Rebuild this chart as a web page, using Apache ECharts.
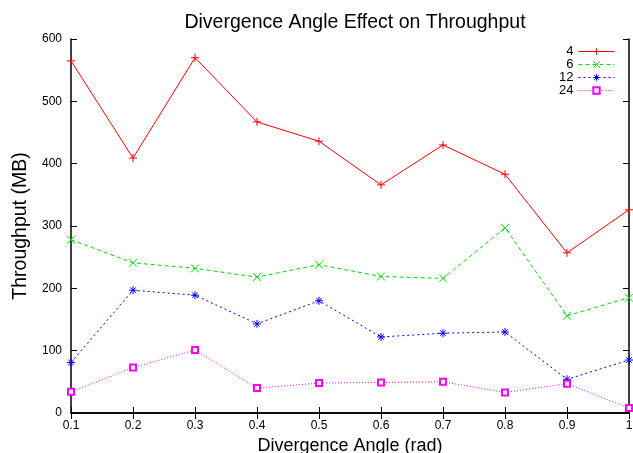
<!DOCTYPE html>
<html><head><meta charset="utf-8">
<script src="https://cdn.jsdelivr.net/npm/echarts@6/dist/echarts.min.js"></script>
<style>html,body{margin:0;padding:0;background:#fff}#c{width:633px;height:453px}</style>
</head><body><div id="c"></div>
<script>
var categories = ['0.1','0.2','0.3','0.4','0.5','0.6','0.7','0.8','0.9','1'];
var seriesNames = ['4','6','12','24'];
var s4  = [565, 409, 570, 467, 436, 366, 430, 383, 257, 326];
var s6  = [278, 241, 232, 218, 238, 219, 216, 297, 156, 185];
var s12 = [81, 197, 189, 143, 180, 122, 128, 130, 54, 85];
var s24 = [34, 73, 101, 40, 48, 49, 50, 33, 47, 8];
var yTicks = [0, 100, 200, 300, 400, 500, 600];

var FONT = '"Liberation Sans", Arial, sans-serif';
var colors = ['#ff0000', '#00dd00', '#0000ff', '#ff00ff'];
var lineTypes = ['solid', [4, 3], [2, 3], [1, 2]];
var symbols = [
  'path://M0,5L10,5M5,0L5,10',
  'path://M0,0L10,10M10,0L0,10',
  'path://M0,5L10,5M5,0L5,10M1.5,1.5L8.5,8.5M8.5,1.5L1.5,8.5',
  'emptyRect'
];
var datas = [s4, s6, s12, s24];

var chart = echarts.init(document.getElementById('c'), null, {renderer: 'canvas'});
var axisLine = {show: true, lineStyle: {color: '#000', width: 1.5}};
var tick = {show: true, inside: true, length: 6, lineStyle: {color: '#000', width: 1}};
var option = {
  backgroundColor: '#fff',
  animation: false,
  title: {
    text: 'Divergence Angle Effect on Throughput',
    left: 350, top: 8, textAlign: 'center',
    textStyle: {fontFamily: FONT, fontSize: 19.5, fontWeight: 'normal', color: '#000'}
  },
  legend: {
    orient: 'vertical', right: 18, top: 45, align: 'right', padding: 0,
    itemWidth: 36, itemHeight: 8, itemGap: 0,
    lineStyle: {width: 1},
    itemStyle: {borderWidth: 1},
    textStyle: {fontFamily: FONT, fontSize: 13, lineHeight: 12, color: '#000', padding: [0, 0, 0, 0]},
    data: seriesNames
  },
  grid: {left: 71, right: 4, top: 39, bottom: 40, outerBoundsMode: 'none', containLabel: false},
  xAxis: [{
    type: 'category', data: categories, boundaryGap: false,
    axisLine: axisLine, axisTick: Object.assign({}, tick, {alignWithLabel: true}),
    axisLabel: {fontFamily: FONT, fontSize: 12, color: '#000', margin: 7},
    splitLine: {show: false},
    name: 'Divergence Angle (rad)', nameLocation: 'middle', nameGap: 18,
    nameTextStyle: {fontFamily: FONT, fontSize: 18, color: '#000'}
  }, {
    type: 'category', data: categories, boundaryGap: false, position: 'top',
    axisLine: axisLine, axisTick: tick, axisLabel: {show: false}, splitLine: {show: false}
  }],
  yAxis: [{
    type: 'value', min: 0, max: 600, interval: 100,
    axisLine: axisLine, axisTick: tick,
    axisLabel: {fontFamily: FONT, fontSize: 12, color: '#000', margin: 9,
      formatter: function (v) { return yTicks.indexOf(v) >= 0 ? String(v) : ''; }},
    splitLine: {show: false},
    name: 'Throughput (MB)', nameLocation: 'middle', nameGap: 39,
    nameTextStyle: {fontFamily: FONT, fontSize: 19.5, color: '#000'}
  }, {
    type: 'value', min: 0, max: 600, interval: 100, position: 'right',
    axisLine: axisLine, axisTick: tick, axisLabel: {show: false}, splitLine: {show: false}
  }],
  series: seriesNames.map(function (n, i) {
    return {
      name: n, type: 'line', data: datas[i],
      symbol: symbols[i], symbolSize: i === 3 ? 6 : 8, showSymbol: true,
      lineStyle: {color: colors[i], width: 1, type: lineTypes[i]},
      itemStyle: {color: i === 3 ? colors[i] : 'transparent', borderColor: colors[i], borderWidth: 1},
      emphasis: {disabled: true}
    };
  })
};
chart.setOption(option);
</script></body></html>
